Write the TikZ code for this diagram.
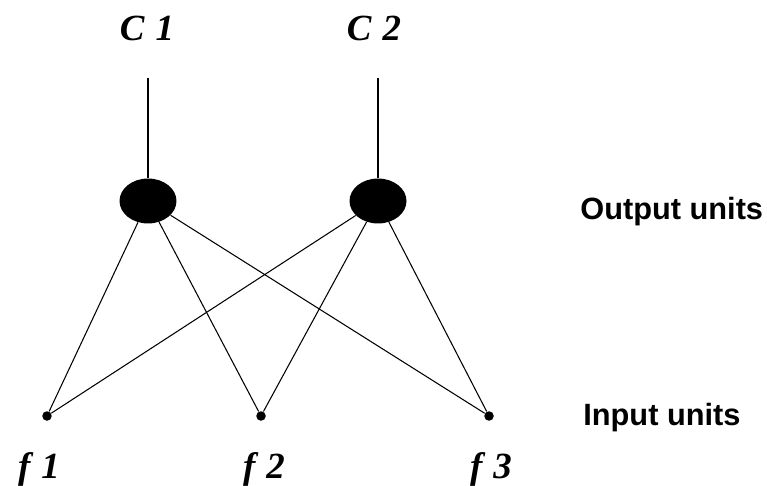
\documentclass[tikz,border=0pt]{standalone}
\usepackage{fontspec}
\setmainfont{Liberation Serif}
\setsansfont{Liberation Sans}
\usetikzlibrary{positioning,shapes.geometric}
\tikzset{
  vystup/.style={ellipse,fill=black,minimum width=1.14cm,minimum height=0.9cm,inner sep=0pt},
  vstup/.style={circle,fill=black,minimum size=1.9mm,inner sep=0pt},
  znacka/.style={font=\fontsize{21}{21}\selectfont\bfseries\itshape,inner sep=0pt},
  popis/.style={font=\fontsize{17.5}{17.5}\selectfont\sffamily\bfseries,inner sep=0pt},
  hrana/.style={line width=0.6pt},
}
\begin{document}
\begin{tikzpicture}[x=0.02cm,y=-0.02cm]
  \useasboundingbox (0,0) rectangle (767,486);
  \node[vystup] (o1) at (148,201) {}; \node[vystup] (o2) at (378,201) {};
  \node[vstup] (i1) at (47,416) {}; \node[vstup] (i2) at (261,416) {}; \node[vstup] (i3) at (489,416) {};
  \coordinate (t1) at (148,78); \coordinate (t2) at (378,78);
  \node[znacka] (c1) at (147,28) {C\hspace{0.3em}1}; \node[znacka] (c2) at (374,28) {C\hspace{0.3em}2};
  \node[znacka] (l1) at (39,469) {f\hspace{0.3em}1}; \node[znacka] (l2) at (264,469) {f\hspace{0.3em}2}; \node[znacka] (l3) at (491,469) {f\hspace{0.3em}3};
  \node[popis,anchor=west] (po) at (580,212) {Output units};
  \node[popis,anchor=west] (pi) at (583,418) {Input units};
  \draw[hrana] (t1)--(o1); \draw[hrana] (t2)--(o2);
  \foreach \o in {o1,o2}
    \foreach \i in {i1,i2,i3}
      \draw[hrana] (\o)--(\i);
\end{tikzpicture}
\end{document}
